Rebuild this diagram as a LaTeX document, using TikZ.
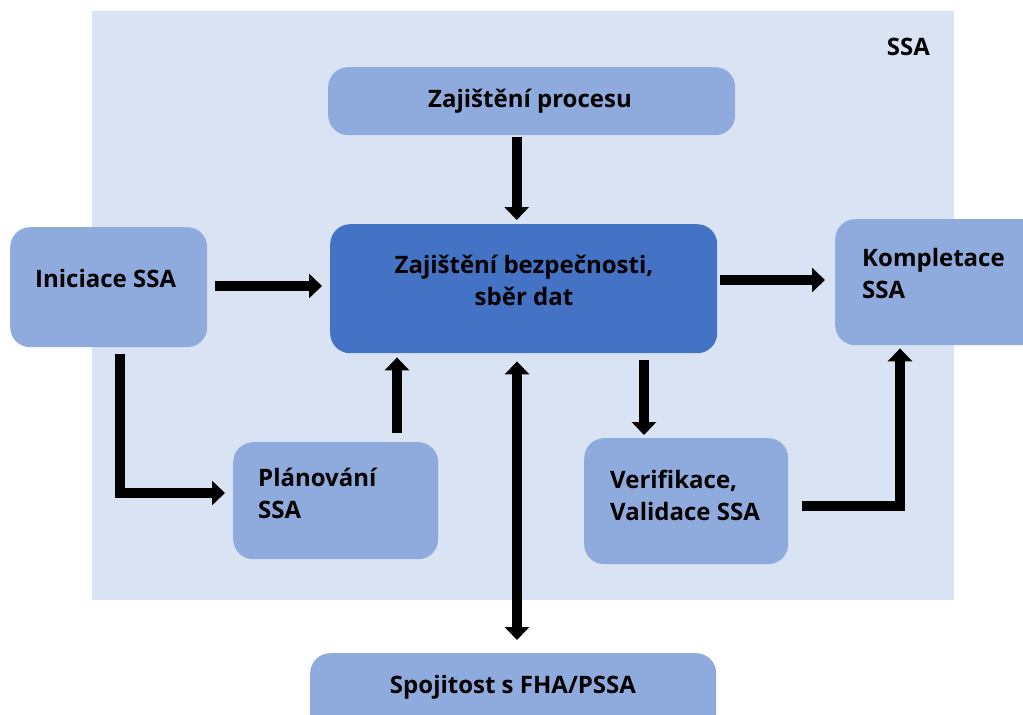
\documentclass[tikz,border=0pt]{standalone}
\usepackage{fontspec}
\setmainfont{Open Sans}
\usetikzlibrary{arrows.meta,calc}
\definecolor{areabg}{HTML}{DAE3F3}
\definecolor{stepfill}{HTML}{8FAADC}
\definecolor{corefill}{HTML}{4472C4}
\tikzset{
  stepbox/.style={draw=none, fill=stepfill, rounded corners=20pt, inner sep=0pt, anchor=north west},
  corebox/.style={stepbox, fill=corefill},
  lbl/.style={font=\fontsize{24}{32}\selectfont\bfseries, inner sep=0pt, align=left},
  flow/.style={line width=10pt, line join=miter, -{Triangle[width=24pt,length=13pt]}},
  flow2/.style={line width=10pt, {Triangle[width=24pt,length=13pt]}-{Triangle[width=24pt,length=13pt]}},
}
\begin{document}
\begin{tikzpicture}[x=1pt,y=-1pt]
  \useasboundingbox (0,0) rectangle (1023,715);
  \clip (0,0) rectangle (1023,715);
  % SSA area
  \node[draw=none, fill=areabg, inner sep=0pt, anchor=north west, minimum width=862pt, minimum height=589pt] (area) at (92,11) {};
  \node[lbl, anchor=base east] (areatitle) at (930,55) {SSA};

  % boxes
  \node[stepbox, minimum width=407pt, minimum height=68pt] (proc) at (328,67) {};
  \node[corebox, minimum width=387pt, minimum height=129pt] (bez) at (330,224) {};
  \node[stepbox, minimum width=197pt, minimum height=120pt] (init) at (10,227) {};
  \node[stepbox, minimum width=210pt, minimum height=126pt] (komp) at (835,219) {};
  \node[stepbox, minimum width=205pt, minimum height=117pt] (plan) at (233,442) {};
  \node[stepbox, minimum width=204pt, minimum height=126pt] (verif) at (584,438) {};
  \node[stepbox, minimum width=406pt, minimum height=90pt] (spoj) at (310,653) {};

  % labels (multi-line labels are anchored at the baseline of their last line)
  \node[lbl, anchor=base] (proct) at (530,107) {Zajištění procesu};
  \node[lbl, anchor=base, align=center] (bezt) at (524,305) {Zajištění bezpečnosti,\\sběr dat};
  \node[lbl, anchor=base west] (initt) at (35,287) {Iniciace SSA};
  \node[lbl, anchor=base west] (kompt) at (862,298) {Kompletace\\SSA};
  \node[lbl, anchor=base west] (plant) at (258,518) {Plánování\\SSA};
  \node[lbl, anchor=base west] (veritt) at (610,520) {Verifikace,\\Validace SSA};
  \node[lbl, anchor=base] (spojt) at (513,693) {Spojitost s FHA/PSSA};

  % connectors
  \draw[flow] ([xshift=-15pt]proc.south) ++(0,2) coordinate (p1) -- (p1 |- bez.north) [shorten >=4pt];
  \draw[flow, shorten <=8pt, shorten >=8pt] (init.east |- 0,286) coordinate (i1) -- (i1 -| bez.west);
  \draw[flow, shorten <=3pt, shorten >=10pt] (bez.east |- 0,280) coordinate (b1) -- (b1 -| komp.west);
  \draw[flow, shorten <=7pt, shorten >=8pt] (init.south -| 120,0) coordinate (i2) |- (plan.west |- 0,493);
  \draw[flow, shorten <=9pt, shorten >=4pt] (plan.north -| 397,0) coordinate (pl1) -- (pl1 |- bez.south);
  \draw[flow, shorten <=7pt, shorten >=3pt] (bez.south -| 644,0) coordinate (b2) -- (b2 |- verif.north);
  \draw[flow, shorten <=14pt, shorten >=3pt] (verif.east |- 0,506) coordinate (v1) -| (komp.south -| 900,0);
  \draw[flow2, shorten <=8pt, shorten >=13pt] (bez.south -| 517,0) coordinate (b3) -- (b3 |- spoj.north);
\end{tikzpicture}
\end{document}
